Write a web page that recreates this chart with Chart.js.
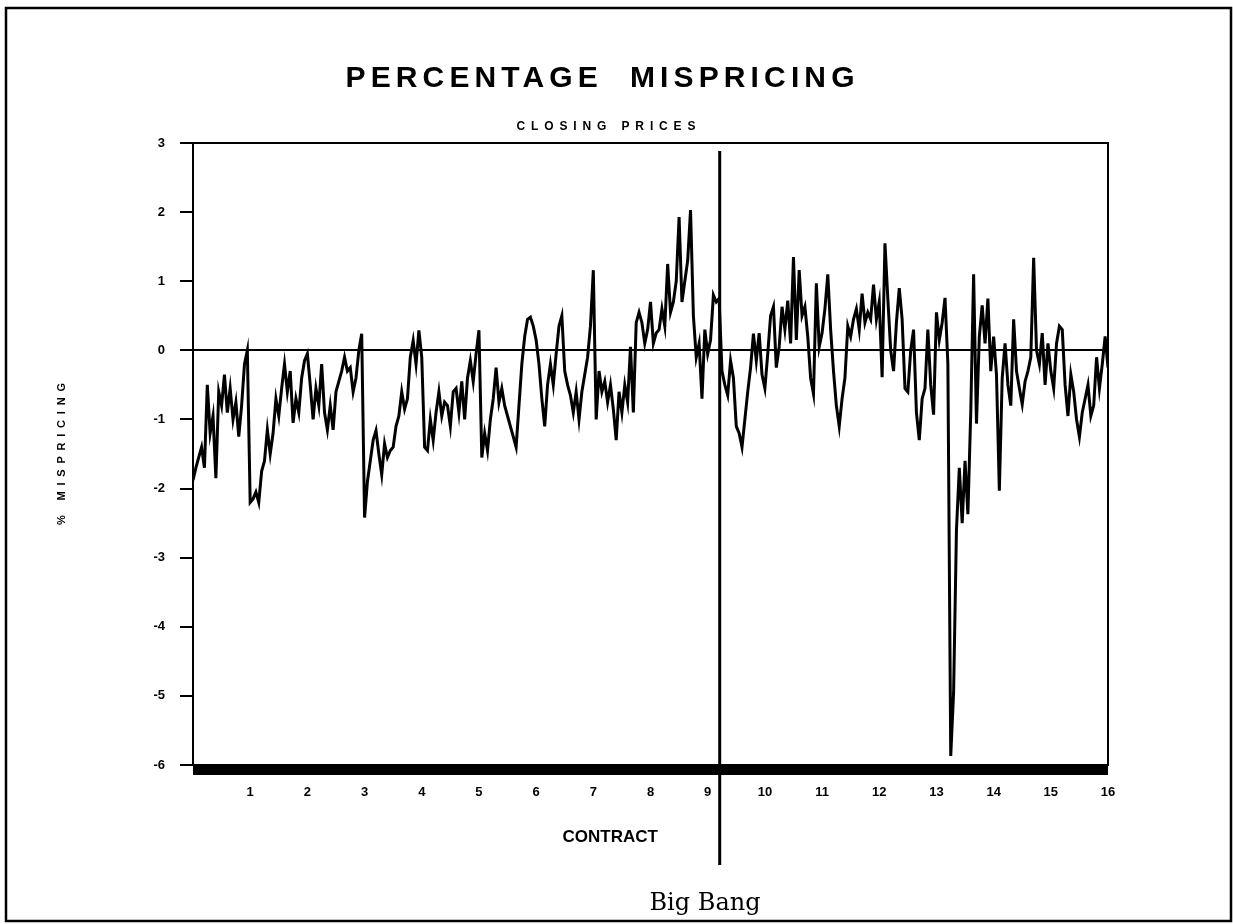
<!DOCTYPE html>
<html lang="en">
<head>
<meta charset="UTF-8">
<title>Percentage Mispricing</title>
<script src="https://cdn.jsdelivr.net/npm/chart.js"></script>
<style>
  html, body { margin: 0; padding: 0; background: #fff; }
  canvas { display: block; }
</style>
</head>
<body>
<canvas id="chart" width="1233" height="924"></canvas>
<script>
// % mispricing at closing prices, 20 readings per contract
const mispricing = [
  // contract 0-1
  -1.88, -1.7, -1.55, -1.4, -1.7, -0.5, -1.2, -0.95, -1.85, -0.6, -0.8, -0.35, -0.9, -0.55, -1.0, -0.75, -1.25, -0.8, -0.2, 0.0,
  // 1-2
  -2.2, -2.15, -2.05, -2.2, -1.75, -1.6, -1.15, -1.5, -1.2, -0.7, -0.95, -0.55, -0.2, -0.6, -0.3, -1.05, -0.7, -0.9, -0.4, -0.15,
  // 2-3
  -0.05, -0.5, -1.0, -0.55, -0.8, -0.2, -0.9, -1.15, -0.8, -1.15, -0.6, -0.45, -0.3, -0.1, -0.3, -0.25, -0.6, -0.4, 0.0, 0.24,
  // 3-4
  -2.42, -1.9, -1.6, -1.3, -1.16, -1.5, -1.8, -1.35, -1.55, -1.45, -1.4, -1.1, -0.95, -0.6, -0.85, -0.7, -0.1, 0.14, -0.2, 0.29,
  // 4-5
  -0.1, -1.4, -1.45, -1.0, -1.3, -0.9, -0.6, -0.95, -0.75, -0.8, -1.1, -0.6, -0.55, -0.9, -0.45, -1.0, -0.4, -0.15, -0.45, -0.05,
  // 5-6
  0.29, -1.55, -1.2, -1.45, -1.0, -0.7, -0.25, -0.75, -0.55, -0.8, -0.95, -1.1, -1.25, -1.4, -0.8, -0.2, 0.2, 0.45, 0.48, 0.35,
  // 6-7
  0.15, -0.2, -0.7, -1.1, -0.5, -0.2, -0.5, -0.05, 0.35, 0.5, -0.3, -0.5, -0.65, -0.9, -0.6, -1.0, -0.6, -0.35, -0.1, 0.35,
  // 7-8
  1.16, -1.0, -0.3, -0.6, -0.45, -0.75, -0.5, -0.85, -1.3, -0.6, -0.9, -0.5, -0.75, 0.05, -0.9, 0.4, 0.55, 0.4, 0.1, 0.3,
  // 8-9
  0.7, 0.1, 0.25, 0.3, 0.6, 0.35, 1.25, 0.55, 0.7, 1.0, 1.93, 0.7, 1.0, 1.3, 2.03, 0.5, -0.1, 0.1, -0.7, 0.3,
  // 9-10
  -0.05, 0.15, 0.8, 0.7, 0.75, -0.3, -0.5, -0.65, -0.15, -0.4, -1.1, -1.2, -1.4, -1.0, -0.6, -0.25, 0.24, -0.15, 0.25, -0.35,
  // 10-11
  -0.55, -0.05, 0.5, 0.63, -0.25, 0.05, 0.63, 0.3, 0.72, 0.1, 1.35, 0.15, 1.16, 0.5, 0.63, 0.2, -0.4, -0.63, 0.97, 0.05,
  // 11-12
  0.25, 0.6, 1.1, 0.3, -0.3, -0.8, -1.1, -0.7, -0.4, 0.35, 0.2, 0.45, 0.6, 0.3, 0.82, 0.4, 0.55, 0.45, 0.95, 0.45,
  // 12-13
  0.7, -0.39, 1.55, 0.75, 0.0, -0.3, 0.4, 0.9, 0.45, -0.55, -0.6, 0.0, 0.3, -0.9, -1.3, -0.7, -0.55, 0.3, -0.5, -0.93,
  // 13-14
  0.55, 0.15, 0.4, 0.76, -0.2, -5.87, -4.95, -2.6, -1.7, -2.5, -1.6, -2.37, -0.9, 1.1, -1.06, 0.2, 0.65, 0.1, 0.75, -0.3,
  // 14-15
  0.2, -0.35, -2.03, -0.4, 0.1, -0.5, -0.8, 0.45, -0.3, -0.55, -0.78, -0.45, -0.3, -0.1, 1.34, 0.0, -0.2, 0.25, -0.5, 0.1,
  // 15-16
  -0.3, -0.55, 0.1, 0.35, 0.3, -0.5, -0.95, -0.35, -0.6, -1.0, -1.25, -0.9, -0.7, -0.5, -0.95, -0.8, -0.1, -0.55, -0.2, 0.2, -0.25
];
const pointsPerContract = 20;
const contractTicks = [1, 2, 3, 4, 5, 6, 7, 8, 9, 10, 11, 12, 13, 14, 15, 16];
const yTicks = [3, 2, 1, 0, -1, -2, -3, -4, -5, -6];
const bigBang = 9.21; // contract position of the Big Bang marker

const points = mispricing.map((v, i) => ({ x: i / pointsPerContract, y: v }));

const BOLD = '"Liberation Sans", Arial, sans-serif';

// draw spaced text so it fills a given width
function spacedText(ctx, text, cx, y, width) {
  ctx.letterSpacing = '0px';
  const w = ctx.measureText(text).width;
  const sp = Math.max(0, (width - w) / (text.length - 1));
  ctx.letterSpacing = sp + 'px';
  ctx.textAlign = 'left';
  ctx.fillText(text, cx - width / 2, y);
  ctx.letterSpacing = '0px';
}

const decorations = {
  id: 'decorations',
  afterDraw(chart) {
    const { ctx, chartArea: a, scales } = chart;
    ctx.save();
    ctx.fillStyle = '#000';
    ctx.strokeStyle = '#000';

    // page frame
    ctx.lineWidth = 2.5;
    ctx.strokeRect(6, 8, 1225, 913);

    // plot box
    ctx.lineWidth = 2;
    ctx.strokeRect(a.left, a.top, a.right - a.left, a.bottom - a.top);

    // heavy band under the x axis
    const yb = scales.y.getPixelForValue(-6);
    ctx.fillRect(a.left, yb, a.right - a.left, 10);

    // Big Bang marker
    const xb = scales.x.getPixelForValue(bigBang);
    ctx.lineWidth = 3;
    ctx.beginPath();
    ctx.moveTo(xb, a.top + 8);
    ctx.lineTo(xb, a.bottom + 100);
    ctx.stroke();

    // titles
    ctx.textBaseline = 'alphabetic';
    ctx.font = 'bold 30px ' + BOLD;
    spacedText(ctx, 'PERCENTAGE  MISPRICING', 600, 87, 509);
    ctx.font = 'bold 12px ' + BOLD;
    spacedText(ctx, 'CLOSING PRICES', 606, 130, 179);
    ctx.font = 'bold 17px ' + BOLD;
    spacedText(ctx, 'CONTRACT', 610, 842, 95);

    // y axis title
    ctx.save();
    ctx.translate(65, 454);
    ctx.rotate(-Math.PI / 2);
    ctx.font = 'bold 11px ' + BOLD;
    spacedText(ctx, '% MISPRICING', 0, 0, 142);
    ctx.restore();

    // annotation
    ctx.font = '24px "DejaVu Serif", serif';
    ctx.textAlign = 'center';
    ctx.fillText('Big Bang', 705, 910);
    ctx.restore();
  }
};

new Chart(document.getElementById('chart'), {
  type: 'line',
  data: {
    datasets: [{
      label: '% mispricing',
      data: points,
      borderColor: '#000',
      borderWidth: 3,
      pointRadius: 0,
      tension: 0,
      fill: false
    }]
  },
  options: {
    responsive: false,
    animation: false,
    devicePixelRatio: 1,
    layout: { padding: { left: 140, top: 143, right: 125, bottom: 119 } },
    plugins: {
      legend: { display: false },
      tooltip: { enabled: false }
    },
    scales: {
      x: {
        type: 'linear',
        min: 0,
        max: 16,
        afterFit: s => { s.height = 40; },
        afterBuildTicks: s => { s.ticks = contractTicks.map(v => ({ value: v })); },
        grid: { display: false, drawTicks: false },
        border: { display: false },
        ticks: {
          padding: 20,
          color: '#000',
          maxRotation: 0,
          autoSkip: false,
          font: { family: BOLD, size: 13, weight: 'bold' }
        }
      },
      y: {
        min: -6,
        max: 3,
        afterFit: s => { s.width = 53; },
        afterBuildTicks: s => { s.ticks = yTicks.map(v => ({ value: v })); },
        grid: {
          color: c => (c.tick && c.tick.value === 0 ? '#000' : 'rgba(0,0,0,0)'),
          lineWidth: 2,
          tickColor: '#000',
          tickLength: 13
        },
        border: { display: true, color: '#000', width: 2 },
        ticks: {
          padding: 15,
          color: '#000',
          autoSkip: false,
          font: { family: BOLD, size: 13, weight: 'bold' }
        }
      }
    }
  },
  plugins: [decorations]
});
</script>
</body>
</html>
